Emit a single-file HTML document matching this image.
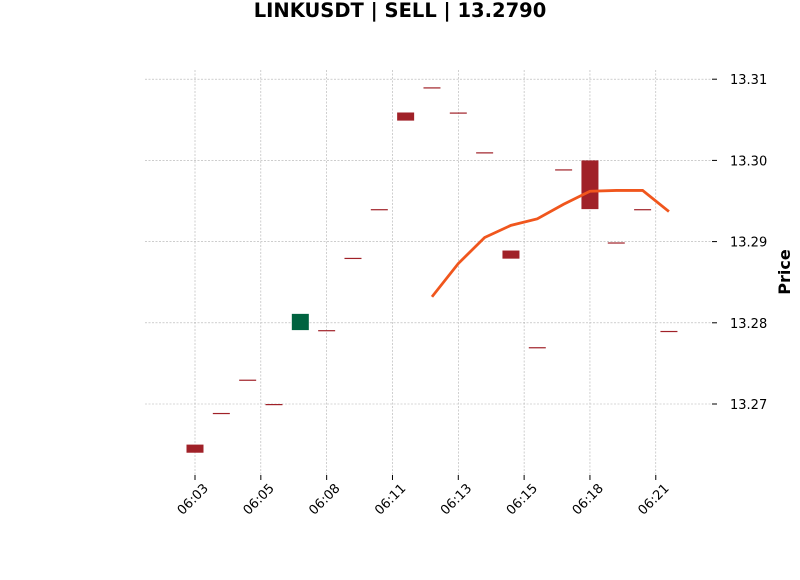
<!DOCTYPE html>
<html><head><meta charset="utf-8"><style>
body{margin:0;background:#fff;width:800px;height:575px;overflow:hidden;font-family:"Liberation Sans","DejaVu Sans",sans-serif}
</style></head><body>
<svg id="chart" width="800" height="575" xmlns="http://www.w3.org/2000/svg" font-family="DejaVu Sans, Liberation Sans, sans-serif">
<text x="400" y="17" text-anchor="middle" font-size="19.5" font-weight="bold">LINKUSDT | SELL | 13.2790</text>
<g id="grid"></g><g id="marks"></g><g id="axes"></g>
<text transform="translate(790,272) rotate(-90)" text-anchor="middle" font-size="16" font-weight="bold">Price</text>
</svg>
<script>
const opens=[13.2650,13.2689,13.2730,13.2700,13.2791,13.2791,13.2880,13.2940,13.3059,13.3090,13.3059,13.3010,13.2889,13.2770,13.2989,13.3000,13.2899,13.2940,13.2790];
const closes=[13.2640,13.2689,13.2730,13.2700,13.2811,13.2791,13.2880,13.2940,13.3049,13.3090,13.3059,13.3010,13.2879,13.2770,13.2989,13.2940,13.2899,13.2940,13.2790];
const lineVals=[null,null,null,null,null,null,null,null,null,13.2832,13.2873,13.2905,13.2920,13.2928,13.2946,13.2962,13.2963,13.2963,13.2937];
const yTicks=[13.27,13.28,13.29,13.30,13.31];
const xTickPos=[0,2.5,5,7.5,10,12.5,15,17.5];
const xTickLabels=["06:03","06:05","06:08","06:11","06:13","06:15","06:18","06:21"];
const NS="http://www.w3.org/2000/svg";
const X=i=>195+26.33*i, Y=v=>404-(v-13.27)*8120;
function mk(t,a,p){const e=document.createElementNS(NS,t);for(const k in a)e.setAttribute(k,a[k]);p.appendChild(e);return e;}
const grid=document.getElementById('grid'),marks=document.getElementById('marks'),axes=document.getElementById('axes');
yTicks.forEach((v,i)=>{
 const l=mk('line',{x1:145,x2:712,y1:Y(v),y2:Y(v),stroke:'#b0b0b0','stroke-width':0.6,'stroke-dasharray':'2,1.5'},grid);
 
 
 mk('line',{x1:712,x2:717,y1:Y(v),y2:Y(v),stroke:'#000'},axes);
 const t=mk('text',{x:730,y:Y(v)+5,'font-size':13},axes);t.textContent=v.toFixed(2);
 
 
});
xTickPos.forEach((p,i)=>{
 const x=X(p);
 const l=mk('line',{x1:x,x2:x,y1:70,y2:475,stroke:'#b0b0b0','stroke-width':0.6,'stroke-dasharray':'2,1.5'},grid);
 
 
 mk('line',{x1:x,x2:x,y1:475,y2:480,stroke:'#000'},axes);
 const t=mk('text',{transform:`translate(${x+14},${489}) rotate(-45)`,'text-anchor':'end','font-size':13},axes);t.textContent=xTickLabels[i];
 
 
});
opens.forEach((o,i)=>{
 const c=closes[i],up=c>o,col=up?'#006340':'#a02128';
 const top=Y(Math.max(o,c)),h=Math.max(Math.abs(Y(o)-Y(c)),1.2);
 const r=mk('rect',{x:X(i)-8.5,y:top,width:17,height:h,fill:col},marks);
 
 
});
let d='';lineVals.forEach((v,i)=>{if(v!=null)d+=(d?'L':'M')+X(i)+','+Y(v);});
const pl=mk('path',{d:d,fill:'none',stroke:'#f0561d','stroke-width':2.8},marks);


</script>
</body></html>
